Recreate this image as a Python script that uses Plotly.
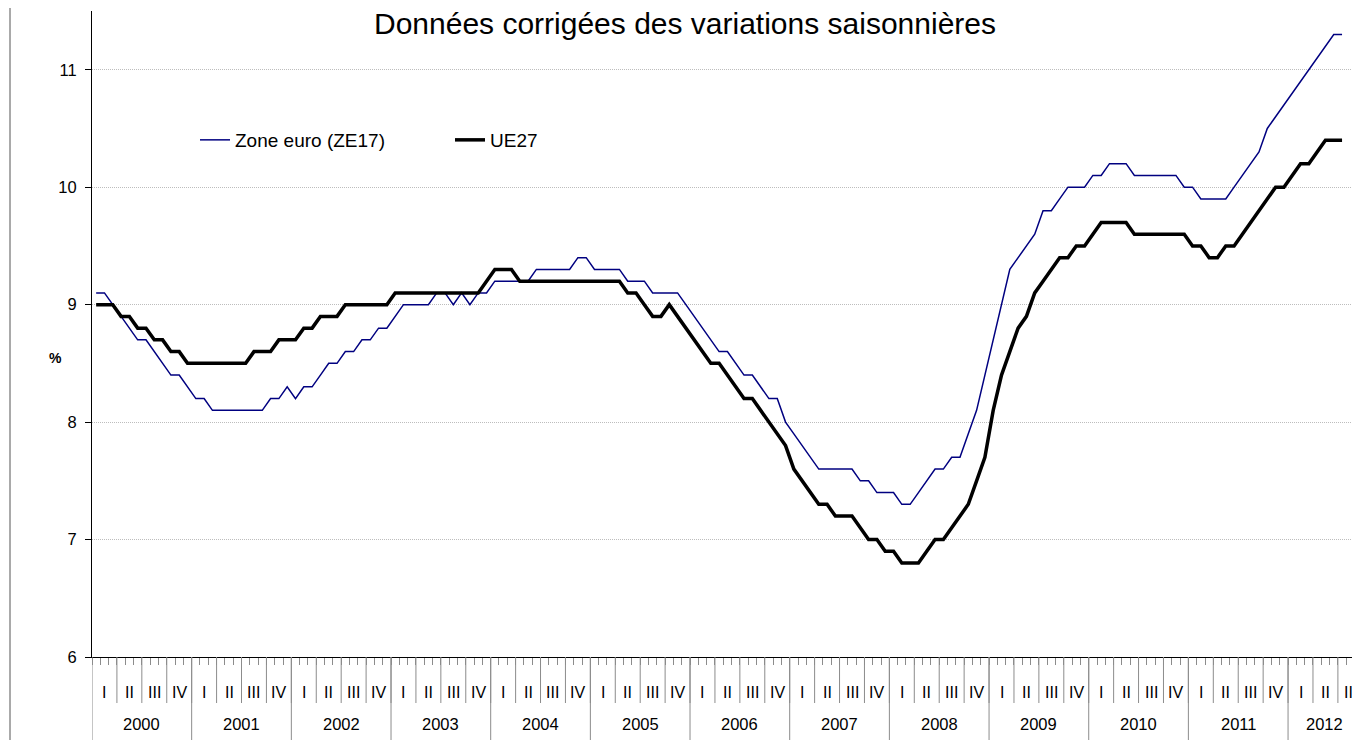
import plotly.graph_objects as go

# ---------------- data ----------------
years = [str(y) for y in range(2000, 2013)]
quarters = ["I", "II", "III", "IV"]
axis_months = 153  # category slots on the axis: Jan 2000 .. Sep 2012

ze17 = [
    9.1, 9.1, 9.0, 8.9, 8.8, 8.7, 8.7, 8.6, 8.5, 8.4, 8.4, 8.3,      # 2000
    8.2, 8.2, 8.1, 8.1, 8.1, 8.1, 8.1, 8.1, 8.1, 8.2, 8.2, 8.3,      # 2001
    8.2, 8.3, 8.3, 8.4, 8.5, 8.5, 8.6, 8.6, 8.7, 8.7, 8.8, 8.8,      # 2002
    8.9, 9.0, 9.0, 9.0, 9.0, 9.1, 9.1, 9.0, 9.1, 9.0, 9.1, 9.1,      # 2003
    9.2, 9.2, 9.2, 9.2, 9.2, 9.3, 9.3, 9.3, 9.3, 9.3, 9.4, 9.4,      # 2004
    9.3, 9.3, 9.3, 9.3, 9.2, 9.2, 9.2, 9.1, 9.1, 9.1, 9.1, 9.0,      # 2005
    8.9, 8.8, 8.7, 8.6, 8.6, 8.5, 8.4, 8.4, 8.3, 8.2, 8.2, 8.0,      # 2006
    7.9, 7.8, 7.7, 7.6, 7.6, 7.6, 7.6, 7.6, 7.5, 7.5, 7.4, 7.4,      # 2007
    7.4, 7.3, 7.3, 7.4, 7.5, 7.6, 7.6, 7.7, 7.7, 7.9, 8.1, 8.4,      # 2008
    8.7, 9.0, 9.3, 9.4, 9.5, 9.6, 9.8, 9.8, 9.9, 10.0, 10.0, 10.0,   # 2009
    10.1, 10.1, 10.2, 10.2, 10.2, 10.1, 10.1, 10.1, 10.1, 10.1, 10.1, 10.0,  # 2010
    10.0, 9.9, 9.9, 9.9, 9.9, 10.0, 10.1, 10.2, 10.3, 10.5, 10.6, 10.7,      # 2011
    10.8, 10.9, 11.0, 11.1, 11.2, 11.3, 11.3,                         # 2012
]

ue27 = [
    9.0, 9.0, 9.0, 8.9, 8.9, 8.8, 8.8, 8.7, 8.7, 8.6, 8.6, 8.5,      # 2000
    8.5, 8.5, 8.5, 8.5, 8.5, 8.5, 8.5, 8.6, 8.6, 8.6, 8.7, 8.7,      # 2001
    8.7, 8.8, 8.8, 8.9, 8.9, 8.9, 9.0, 9.0, 9.0, 9.0, 9.0, 9.0,      # 2002
    9.1, 9.1, 9.1, 9.1, 9.1, 9.1, 9.1, 9.1, 9.1, 9.1, 9.1, 9.2,      # 2003
    9.3, 9.3, 9.3, 9.2, 9.2, 9.2, 9.2, 9.2, 9.2, 9.2, 9.2, 9.2,      # 2004
    9.2, 9.2, 9.2, 9.2, 9.1, 9.1, 9.0, 8.9, 8.9, 9.0, 8.9, 8.8,      # 2005
    8.7, 8.6, 8.5, 8.5, 8.4, 8.3, 8.2, 8.2, 8.1, 8.0, 7.9, 7.8,      # 2006
    7.6, 7.5, 7.4, 7.3, 7.3, 7.2, 7.2, 7.2, 7.1, 7.0, 7.0, 6.9,      # 2007
    6.9, 6.8, 6.8, 6.8, 6.9, 7.0, 7.0, 7.1, 7.2, 7.3, 7.5, 7.7,      # 2008
    8.1, 8.4, 8.6, 8.8, 8.9, 9.1, 9.2, 9.3, 9.4, 9.4, 9.5, 9.5,      # 2009
    9.6, 9.7, 9.7, 9.7, 9.7, 9.6, 9.6, 9.6, 9.6, 9.6, 9.6, 9.6,      # 2010
    9.5, 9.5, 9.4, 9.4, 9.5, 9.5, 9.6, 9.7, 9.8, 9.9, 10.0, 10.0,    # 2011
    10.1, 10.2, 10.2, 10.3, 10.4, 10.4, 10.4,                         # 2012
]

# ---------------- layout geometry ----------------
# The page places the figure 8px from the top-left corner (body margin),
# so the figure is 8px smaller and page positions are converted.
OFF = 8
W, H = 1360 - OFF, 740 - OFF
PLOT_L, PLOT_T, PLOT_B, PLOT_R = 92, 11, 657, 1360   # page pixels
ML, MT = PLOT_L - OFF, PLOT_T - OFF
MR = 0
MB = H - (PLOT_B - OFF)
PW = PLOT_R - PLOT_L
PH = PLOT_B - PLOT_T
FONT = "Liberation Sans, Arial, sans-serif"


def py(page_y):
    return (PLOT_B - page_y) / PH


def pxp(page_x):
    return (page_x - PLOT_L) / PW


x_end = -0.5 + PW / 8.306
xs = list(range(len(ze17)))

fig = go.Figure()
fig.add_trace(go.Scatter(x=xs, y=ze17, mode="lines", name="Zone euro (ZE17)",
                         line=dict(color="#000080", width=1.5)))
fig.add_trace(go.Scatter(x=xs, y=ue27, mode="lines", name="UE27",
                         line=dict(color="#000000", width=3.5)))

shapes = []
annotations = []

# quarter separators and labels
for q in range(axis_months // 3):
    b = q * 3 - 0.5
    if q > 0:
        shapes.append(dict(type="line", xref="x", yref="paper", x0=b, x1=b,
                           y0=py(657), y1=py(703), line=dict(color="#8c8c8c", width=1)))
    c = q * 3 + 1
    if c <= x_end:
        annotations.append(dict(text=quarters[q % 4], x=c, y=py(692), xref="x", yref="paper",
                                showarrow=False, xanchor="center", yanchor="middle",
                                font=dict(size=16, color="black", family=FONT)))

# year separators and labels
for k, yr in enumerate(years):
    b = k * 12 - 0.5
    shapes.append(dict(type="line", xref="x", yref="paper", x0=b, x1=b,
                       y0=py(657), y1=py(740), line=dict(color="#8c8c8c", width=1)))
    end = min(k * 12 + 11.5, x_end)
    c = (b + end) / 2
    annotations.append(dict(text=yr, x=c, y=py(724), xref="x", yref="paper",
                            showarrow=False, xanchor="center", yanchor="middle",
                            font=dict(size=16.5, color="black", family=FONT)))

# outer frame line on the left
shapes.append(dict(type="line", xref="paper", yref="paper", x0=pxp(10), x1=pxp(10),
                   y0=py(745), y1=py(0), line=dict(color="#555555", width=1)))

# y-axis title
annotations.append(dict(text="<b>%</b>", x=pxp(55), y=py(358), xref="paper", yref="paper",
                        showarrow=False, xanchor="center", yanchor="middle",
                        font=dict(size=14, color="black", family=FONT)))

fig.update_layout(
    width=W, height=H,
    margin=dict(l=ML, r=MR, t=MT, b=MB, pad=0),
    paper_bgcolor="white", plot_bgcolor="white",
    font=dict(family=FONT, size=14, color="black"),
    title=dict(text="Données corrigées des variations saisonnières",
               x=(685 - OFF) / W, xanchor="center", y=1 - (23 - OFF) / H, yanchor="middle",
               font=dict(size=30, color="black", family=FONT)),
    showlegend=True,
    legend=dict(orientation="h", x=pxp(195), y=py(140), xanchor="left", yanchor="middle",
                font=dict(size=19, color="black", family=FONT),
                bgcolor="rgba(0,0,0,0)", entrywidth=210, entrywidthmode="pixels"),
    xaxis=dict(range=[-0.5, x_end], showgrid=False, zeroline=False,
               showline=True, linecolor="black", linewidth=1,
               ticks="outside", ticklen=7, tickcolor="#8c8c8c", tickwidth=1,
               tickmode="array", tickvals=[i - 0.5 for i in range(axis_months + 1)],
               showticklabels=False),
    yaxis=dict(range=[6, 11.5], tickmode="array", tickvals=[6, 7, 8, 9, 10, 11],
               showgrid=True, gridcolor="#bdbdbd", griddash="1px,1px", gridwidth=1,
               zeroline=False, showline=True, linecolor="black", linewidth=1,
               ticks="outside", ticklen=6, tickcolor="black", ticklabelstandoff=5,
               tickfont=dict(size=16.5, color="black", family=FONT)),
    shapes=shapes,
    annotations=annotations,
)

fig.write_html("out.html")
